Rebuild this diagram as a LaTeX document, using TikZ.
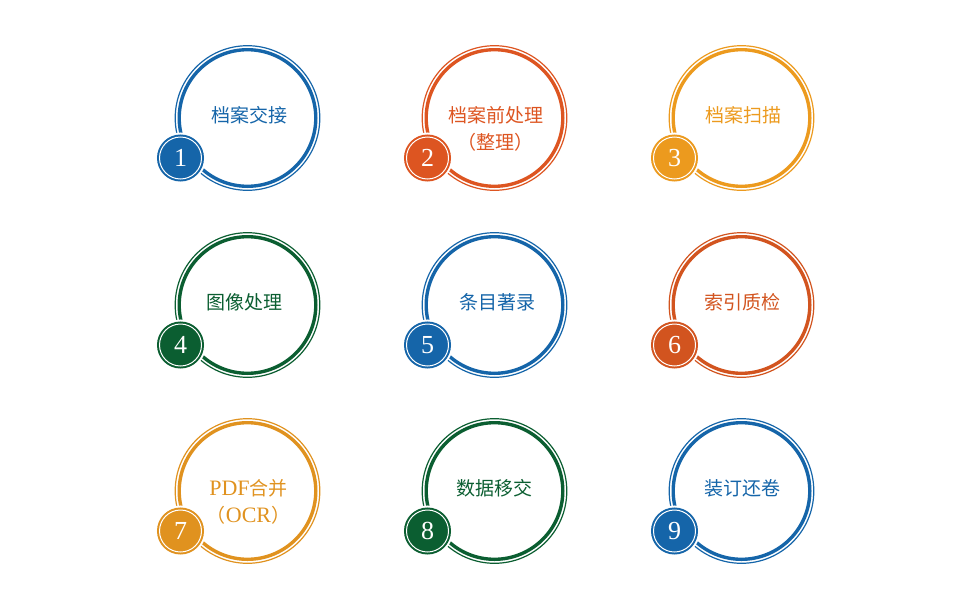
\documentclass[tikz,border=0pt]{standalone}
\usepackage{fontspec}
\setmainfont{Liberation Serif}
\newfontfamily\cjk{Noto Sans CJK SC}
\definecolor{cblue}{HTML}{1565A9}
\definecolor{cred}{HTML}{DD5521}
\definecolor{corange}{HTML}{EC9A1E}
\definecolor{cgreen}{HTML}{0B5E31}
\definecolor{crust}{HTML}{D2541F}
\definecolor{camber}{HTML}{E0921F}
\newcommand{\latin}[1]{{\rmfamily\fontsize{22}{27}\selectfont #1}}

\begin{document}
\begin{tikzpicture}[x=1pt, y=-1pt,
    ring/.style={circle, draw=#1, line width=3.4pt, minimum size=136.6pt, inner sep=0pt},
    rim/.style={draw=#1, line width=1.2pt},
    badge/.style={circle, fill=#1, draw=white, line width=1pt, minimum size=42pt, inner sep=0pt,
        text=white, font=\fontsize{26}{26}\selectfont,
        preaction={draw=white, line width=9pt}, preaction={draw=#1, line width=5pt}},
    steptext/.style={text=#1, font=\cjk\fontsize{19}{27}\selectfont, align=center, inner sep=0pt}]
    \useasboundingbox (0,0) rectangle (959,608);

    % Rings
    \node[ring=cblue] (c1) at (247.5,118) {};
    \node[ring=cred] (c2) at (494.5,118) {};
    \node[ring=corange] (c3) at (741.5,118) {};
    \node[ring=cgreen] (c4) at (247.5,305) {};
    \node[ring=cblue] (c5) at (494.5,305) {};
    \node[ring=crust] (c6) at (741.5,305) {};
    \node[ring=camber] (c7) at (247.5,491) {};
    \node[ring=cgreen] (c8) at (494.5,491) {};
    \node[ring=cblue] (c9) at (741.5,491) {};
    \draw[rim=cblue] (c1.center) circle (72.3);
    \draw[rim=cred] (c2.center) circle (72.3);
    \draw[rim=corange] (c3.center) circle (72.3);
    \draw[rim=cgreen] (c4.center) circle (72.3);
    \draw[rim=cblue] (c5.center) circle (72.3);
    \draw[rim=crust] (c6.center) circle (72.3);
    \draw[rim=camber] (c7.center) circle (72.3);
    \draw[rim=cgreen] (c8.center) circle (72.3);
    \draw[rim=cblue] (c9.center) circle (72.3);

    % Badges
    \node[badge=cblue] (n1) at ([shift={(-67,40)}]c1.center) {1};
    \node[badge=cred] (n2) at ([shift={(-67,40)}]c2.center) {2};
    \node[badge=corange] (n3) at ([shift={(-67,40)}]c3.center) {3};
    \node[badge=cgreen] (n4) at ([shift={(-67,40)}]c4.center) {4};
    \node[badge=cblue] (n5) at ([shift={(-67,40)}]c5.center) {5};
    \node[badge=crust] (n6) at ([shift={(-67,40)}]c6.center) {6};
    \node[badge=camber] (n7) at ([shift={(-67,40)}]c7.center) {7};
    \node[badge=cgreen] (n8) at ([shift={(-67,40)}]c8.center) {8};
    \node[badge=cblue] (n9) at ([shift={(-67,40)}]c9.center) {9};

    % Texts
    \node[steptext=cblue] (t1) at ([shift={(2,-3)}]c1.center) {档案交接};
    \node[steptext=cred] (t2) at ([shift={(1,11)}]c2.center) {档案前处理\\（整理）};
    \node[steptext=corange] (t3) at ([shift={(2,-3)}]c3.center) {档案扫描};
    \node[steptext=cgreen] (t4) at ([shift={(-3,-3)}]c4.center) {图像处理};
    \node[steptext=cblue] (t5) at ([shift={(3,-3)}]c5.center) {条目著录};
    \node[steptext=crust] (t6) at ([shift={(1,-3)}]c6.center) {索引质检};
    \node[steptext=camber] (t7) at ([shift={(1,11)}]c7.center) {\latin{PDF}合并\\（\latin{OCR}）};
    \node[steptext=cgreen] (t8) at ([shift={(0,-3)}]c8.center) {数据移交};
    \node[steptext=cblue] (t9) at ([shift={(1,-3)}]c9.center) {装订还卷};
\end{tikzpicture}
\end{document}
